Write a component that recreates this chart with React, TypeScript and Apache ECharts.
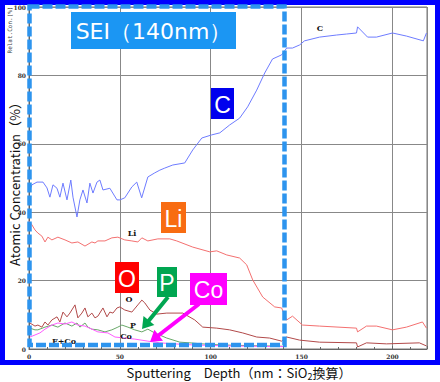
import React, { useEffect, useRef } from "react";
import * as echarts from "echarts";

const xTicks = [0, 50, 100, 150, 200];
const yTicks = [0, 20, 40, 60, 80, 100];

const cDepth = [0, 1.6, 4.4, 7.7, 9.9, 11.5, 13.2, 15.4, 17, 18.7, 20.9, 23, 24.2, 26.4, 28, 29.7, 31.9, 33.5, 35.2, 37.4, 39, 40.7, 44.5, 48.4, 50, 52.7, 56.6, 59.3, 62, 65.4, 69.2, 72, 74.7, 79.1, 85.7, 90.1, 95.1, 100.5, 105, 110.4, 115.9, 120.3, 125.3, 129.7, 134, 139, 141.8, 145, 148.9, 151.6, 159.9, 169.2, 174.7, 180.2, 180.8, 186.3, 191.2, 200, 207.7, 217, 218.7];
const cConc = [46, 48, 48.8, 48.8, 47.1, 44.4, 48, 47, 44.4, 48.5, 43.6, 49.4, 44.4, 38.6, 43.6, 46.5, 42.7, 48.5, 45.6, 48.8, 49.4, 46.5, 47, 43.6, 43.6, 44.2, 47.4, 48.8, 44.2, 50.3, 51.5, 52.3, 52.9, 53.8, 54.4, 58.2, 61.7, 62.6, 63.2, 65.5, 67.5, 70.8, 75.7, 80.7, 84.8, 86, 88, 88, 88.9, 90.1, 91.2, 91.8, 92.1, 92.4, 94.2, 91.2, 91.2, 92.4, 91.5, 90.1, 92.4];

const liDepth = [0, 1.6, 3.3, 4.9, 7.1, 8.8, 10.4, 12.6, 15.9, 19.8, 23.6, 26.9, 30.8, 34.6, 36.3, 37.9, 41.8, 45.6, 48.9, 52.7, 56.6, 59.9, 62.1, 65.4, 70.9, 77.5, 81.3, 90.1, 99.5, 103.3, 108.8, 115.9, 119.8, 123.1, 128.6, 135.2, 139, 141.8, 145, 150.5, 159.9, 180.2, 180.8, 185.7, 191.2, 200, 207.7, 216.5, 218.7];
const liConc = [37.5, 36.3, 34.8, 33.9, 33, 31.3, 32.7, 31.9, 32.7, 31.9, 31, 31.3, 30.1, 31.3, 31, 31.6, 31.6, 32.5, 32.7, 31.9, 31.6, 31.3, 32.5, 31.6, 32.2, 32.2, 31.6, 29.8, 28.4, 28.7, 27.5, 26.6, 24.6, 20.2, 15.2, 12.3, 12, 8.5, 9.6, 7, 6.7, 6.1, 5, 6.7, 6.7, 5.6, 6.4, 7.9, 6.1];

const oDepth = [0.5, 3.3, 4.9, 7.1, 8.8, 10.4, 12.6, 15.4, 17, 18.7, 20.9, 22.5, 25.3, 26.9, 29.1, 30.8, 32.4, 34.6, 36.3, 37.9, 40.7, 42.9, 44.5, 46.2, 48.4, 50, 52.7, 56.6, 59.9, 62.1, 63.7, 66.5, 70.3, 75.8, 84.6, 91.2, 95.6, 103.3, 110.4, 117.6, 125.3, 132.4, 139, 141.8, 148.9, 159.9, 180.2, 180.8, 185.7, 196.7, 214.8, 218.7];
const oConc = [7.6, 6.7, 7, 6.4, 7.9, 7, 8.5, 9.4, 7.9, 10.8, 9.4, 10.5, 12.9, 9.1, 10.5, 12, 9.4, 10.5, 9.1, 9.6, 12, 9.4, 10.8, 10.5, 12, 12.3, 11.4, 10.8, 12.9, 14.3, 13.5, 11.4, 10.2, 10.5, 10.5, 8.5, 6.4, 6.1, 5.6, 4.7, 3.5, 3.2, 2.3, 3.5, 2.6, 2, 1.8, 0.6, 1.8, 1.5, 1.8, 0.9];

const pDepth = [0.5, 3.3, 4.9, 8.8, 12.6, 15.9, 19.8, 23.6, 26.4, 28, 30.8, 32.4, 34.6, 37.9, 41.8, 45.6, 48.9, 51.1, 54.4, 58.2, 62.1, 65.4, 69.2, 75.8, 83, 88.5, 95, 105, 120, 140];
const pConc = [6.1, 5.6, 5.6, 6.4, 7, 6.4, 7.6, 6.7, 7.6, 6.4, 7.6, 6.4, 5.8, 5.6, 5, 5.6, 6.4, 7, 6.4, 5.6, 5, 5.8, 4.7, 3.2, 2, 1.8, 1.5, 1.2, 1, 0.8];

const coDepth = [0.5, 3.3, 6, 8.8, 12.6, 15.9, 19.8, 23.6, 26.9, 30.8, 34.6, 37.9, 43.4, 47.3, 52.7, 58.2, 65.4, 72, 80, 90, 110, 140];
const coConc = [3.5, 4.1, 4.7, 5.8, 7, 7.6, 7.3, 7.9, 7, 6.7, 5.8, 5, 4.7, 3.5, 3.2, 2.9, 2.3, 1.8, 1.5, 1.2, 0.9, 0.7];

const zip = (xs: number[], ys: number[]) => xs.map((x, i) => [x, ys[i]]);

function arrow(sx: number, sy: number, tx: number, ty: number, color: string) {
  const dx = tx - sx, dy = ty - sy;
  const L = Math.hypot(dx, dy);
  const ux = dx / L, uy = dy / L;
  const nx = -uy, ny = ux;
  const hl = 11, hw = 7;
  const bx = tx - ux * hl, by = ty - uy * hl;
  return [
    { type: "line", z: 110, shape: { x1: sx, y1: sy, x2: bx + ux * 2, y2: by + uy * 2 }, style: { stroke: color, lineWidth: 4 } },
    { type: "polygon", z: 110, shape: { points: [[tx, ty], [bx + nx * hw, by + ny * hw], [bx - nx * hw, by - ny * hw]] }, style: { fill: color } },
  ];
}

function labelBox(x: number, y: number, w: number, h: number, fill: string, text: string, fs: number, font = "Liberation Sans, Arial, sans-serif") {
  return [
    { type: "rect", z: 105, shape: { x, y, width: w, height: h }, style: { fill } },
    {
      type: "text", z: 106, x: x + w / 2, y: y + h / 2 + 1,
      style: { text, fill: "#ffffff", fontSize: fs, fontFamily: font, align: "center", verticalAlign: "middle" },
    },
  ];
}

function smallText(x: number, y: number, text: string) {
  return {
    type: "text", z: 50, x, y,
    style: { text, fill: "#111", fontSize: 8, fontWeight: "bold", fontFamily: "DejaVu Serif, serif", align: "center", verticalAlign: "middle" },
  };
}

export default function App() {
  const ref = useRef<HTMLDivElement>(null);
  useEffect(() => {
    const chart = echarts.init(ref.current!, null, { renderer: "svg" });
    const lineSeries = (name: string, data: number[][], color: string) => ({
      name, type: "line", data, showSymbol: false, symbol: "none",
      lineStyle: { color, width: 1 }, z: 3,
    });
    chart.setOption({
      animation: false,
      backgroundColor: "#ffffff",
      grid: { left: 29, top: 7, width: 398, height: 342, show: true, borderColor: "#777", borderWidth: 1 },
      xAxis: {
        type: "value", min: 0, max: 219, interval: 50,
        axisLine: { show: true, lineStyle: { color: "#666" } },
        axisTick: { show: true, inside: true, length: 3, lineStyle: { color: "#666" } },
        minorTick: { show: true, splitNumber: 5, length: 2, lineStyle: { color: "#666" } },
        splitLine: { show: true, lineStyle: { color: "#888", width: 1 } },
        axisLabel: {
          margin: 4, fontSize: 6, fontWeight: "bold", color: "#333", fontFamily: "DejaVu Serif, serif",
          showMaxLabel: false,
          formatter: (v: number) => (xTicks.includes(v) ? String(v) : ""),
        },
      },
      yAxis: {
        type: "value", min: 0, max: 100, interval: 20,
        axisLine: { show: true, lineStyle: { color: "#666" } },
        axisTick: { show: false },
        splitLine: { show: true, lineStyle: { color: "#888", width: 1 } },
        axisLabel: {
          margin: 3, fontSize: 6, fontWeight: "bold", color: "#333", fontFamily: "DejaVu Serif, serif",
          formatter: (v: number) => (yTicks.includes(v) ? String(v) : ""),
        },
      },
      series: [
        lineSeries("C", zip(cDepth, cConc), "#6e7cff"),
        lineSeries("Li", zip(liDepth, liConc), "#f47070"),
        lineSeries("O", zip(oDepth, oConc), "#b24a4a"),
        lineSeries("P", zip(pDepth, pConc), "#68a868"),
        lineSeries("Co", zip(coDepth, coConc), "#ff5cff"),
      ],
      graphic: [
        { type: "rect", z: 1, silent: true, shape: { x: 2.5, y: 2.5, width: 435, height: 360 }, style: { fill: "none", stroke: "#0000ff", lineWidth: 5 } },
        { type: "rect", z: 100, silent: true, shape: { x: 29.5, y: 6.5, width: 255, height: 338.5 }, style: { fill: "none", stroke: "#2d94ee", lineWidth: 4.5, lineDash: [10, 3] } },
        ...labelBox(71, 12, 165, 37, "#1b96f3", "SEI（140nm）", 22, "DejaVu Sans, sans-serif"),
        ...labelBox(211, 88, 23, 31, "#0000ee", "C", 23),
        ...labelBox(161, 202, 25, 31, "#f86c12", "Li", 23),
        ...labelBox(115, 262, 24, 31, "#ff0000", "O", 23),
        ...labelBox(157, 267, 20, 30, "#00a651", "P", 23),
        ...labelBox(190, 273, 37, 32, "#ff00ff", "Co", 23),
        ...arrow(168, 297, 142, 329, "#00a651"),
        ...arrow(199, 304, 150, 342, "#ff00ff"),
        smallText(320, 28, "C"),
        smallText(132, 233, "Li"),
        smallText(129, 299, "O"),
        smallText(133, 325, "P"),
        smallText(126, 336, "Co"),
        smallText(64, 341, "F+Co"),
        {
          type: "text", z: 50, x: 9, y: 30, rotation: Math.PI / 2,
          style: { text: "Relat.Con.(%)", fill: "#444", fontSize: 6, fontFamily: "DejaVu Sans Mono, monospace", align: "center", verticalAlign: "middle" },
        },
        {
          type: "text", z: 50, x: 14, y: 181, rotation: Math.PI / 2,
          style: { text: "Atomic Concentration（%）", fill: "#111", fontSize: 13, fontFamily: "Noto Sans CJK JP, sans-serif", align: "center", verticalAlign: "middle" },
        },
        {
          type: "text", z: 50, x: 239, y: 372,
          style: {
            text: "{a|Sputtering　Depth（nm：SiO}{s|2}{a|換算）}",
            align: "center", verticalAlign: "middle",
            rich: {
              a: { fontSize: 13, fill: "#111", fontFamily: "Noto Sans CJK JP, sans-serif", lineHeight: 16 },
              s: { fontSize: 9, fill: "#111", fontFamily: "Noto Sans CJK JP, sans-serif", lineHeight: 16, padding: [8, 0, 0, 0] },
            },
          },
        },
      ],
    });
    return () => chart.dispose();
  }, []);
  return <div ref={ref} style={{ position: "fixed", left: 0, top: 0, width: 440, height: 382, background: "#fff" }} />;
}
